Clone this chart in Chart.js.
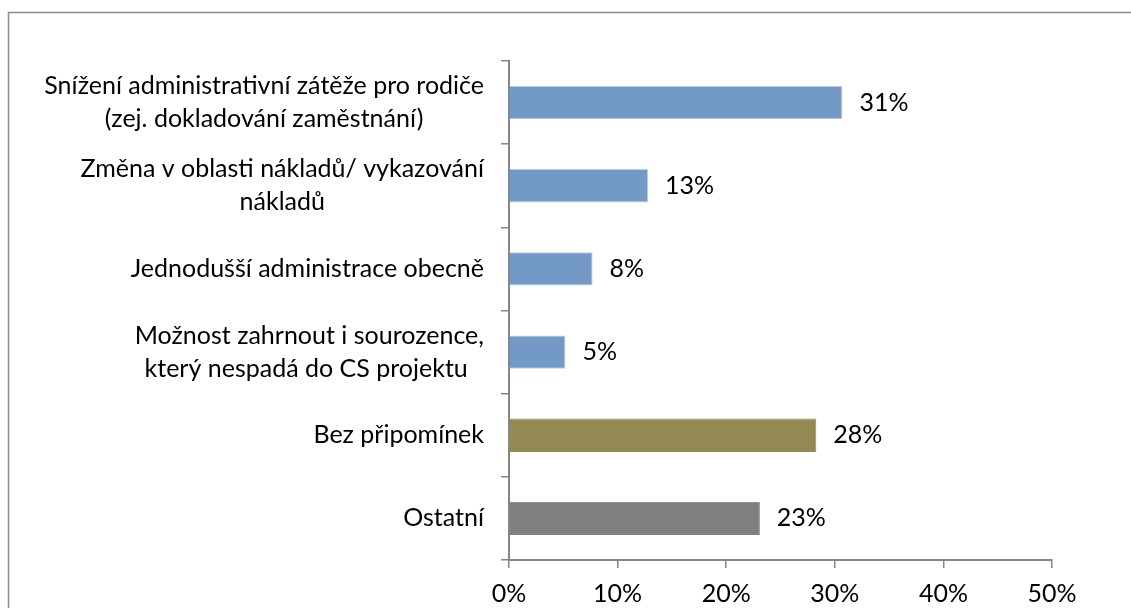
<!DOCTYPE html>
<html>
<head>
<meta charset="utf-8">
<script src="https://cdn.jsdelivr.net/npm/chart.js@4.4.0/dist/chart.umd.min.js"></script>
<style>
  html, body { margin: 0; padding: 0; background: #fff; }
</style>
</head>
<body>
<canvas id="myChart" width="1131" height="608"></canvas>
<script>
const categories = [
    ['Snížení administrativní zátěže pro rodiče', '(zej. dokladování zaměstnání)'],
    ['Změna v oblasti nákladů/ vykazování', 'nákladů'],
    ['Jednodušší administrace obecně'],
    ['Možnost zahrnout i sourozence,', 'který nespadá do CS projektu '],
    ['Bez připomínek'],
    ['Ostatní']
];
const shares = [30.7, 12.8, 7.7, 5.2, 28.3, 23.1];
const xTicks = [0, 10, 20, 30, 40, 50];
const barColors = ['#7399C6', '#7399C6', '#7399C6', '#7399C6', '#938953', '#7F7F7F'];
const barBorders = ['#B9CDE5', '#B9CDE5', '#B9CDE5', '#B9CDE5', '#938953', '#7F7F7F'];

const FONT = 'Lato, "Open Sans", sans-serif';
const FONT_SIZE = 25;
const axisGrey = '#868686';

// frame around the chart (only top and left edge visible)
const framePlugin = {
    id: 'frame',
    beforeDraw(chart) {
        const c = chart.ctx;
        c.save();
        c.strokeStyle = '#8c8c8c';
        c.lineWidth = 1.5;
        c.beginPath();
        c.moveTo(8.5, 608);
        c.lineTo(8.5, 12.5);
        c.lineTo(1131, 12.5);
        c.stroke();
        c.restore();
    }
};

// category labels: block right aligned, lines centred inside the block
const catLabelPlugin = {
    id: 'catLabels',
    afterDraw(chart) {
        const c = chart.ctx;
        const yScale = chart.scales.y;
        const right = yScale.right - 25;
        const lh = 33;
        c.save();
        c.font = FONT_SIZE + 'px ' + FONT;
        c.fillStyle = '#000';
        c.textAlign = 'center';
        c.textBaseline = 'middle';
        categories.forEach((lines, i) => {
            const y = yScale.getPixelForValue(i);
            const w = Math.max(...lines.map(l => c.measureText(l).width));
            const cx = right - w / 2;
            const y0 = y - (lines.length - 1) * lh / 2;
            lines.forEach((l, j) => c.fillText(l, cx, y0 + j * lh));
        });
        c.restore();
    }
};

// value labels to the right of bars
const valueLabelPlugin = {
    id: 'valueLabels',
    afterDatasetsDraw(chart) {
        const c = chart.ctx;
        const meta = chart.getDatasetMeta(0);
        c.save();
        c.font = FONT_SIZE + 'px ' + FONT;
        c.fillStyle = '#000';
        c.textAlign = 'left';
        c.textBaseline = 'middle';
        meta.data.forEach((bar, i) => {
            c.fillText(Math.round(shares[i]) + '%', bar.x + 17, bar.y);
        });
        c.restore();
    }
};

const ctx = document.getElementById('myChart').getContext('2d');
const myChart = new Chart(ctx, {
    type: 'bar',
    data: {
        labels: categories,
        datasets: [{
            data: shares,
            backgroundColor: barColors,
            borderColor: barBorders,
            borderWidth: 1,
            barPercentage: 0.4,
            categoryPercentage: 1
        }]
    },
    options: {
        indexAxis: 'y',
        responsive: false,
        animation: false,
        layout: {
            padding: { top: 61, right: 79, bottom: 0, left: 0 }
        },
        plugins: {
            legend: { display: false },
            tooltip: { enabled: false }
        },
        scales: {
            x: {
                min: 0,
                max: 50,
                afterBuildTicks: s => { s.ticks = xTicks.map(v => ({ value: v })); },
                ticks: {
                    callback: v => v + '%',
                    font: { family: FONT, size: FONT_SIZE },
                    color: '#000',
                    padding: 11,
                    maxRotation: 0
                },
                grid: {
                    drawOnChartArea: false,
                    tickLength: 8,
                    color: axisGrey,
                    lineWidth: 1.5
                },
                border: { color: axisGrey, width: 2 },
                afterFit: s => { s.height = 48; }
            },
            y: {
                ticks: { display: false },
                grid: {
                    offset: true,
                    drawOnChartArea: false,
                    tickLength: 8,
                    color: axisGrey,
                    lineWidth: 1.5
                },
                border: { color: axisGrey, width: 2 },
                afterFit: s => { s.width = 509; }
            }
        }
    },
    plugins: [framePlugin, catLabelPlugin, valueLabelPlugin]
});
</script>
</body>
</html>
